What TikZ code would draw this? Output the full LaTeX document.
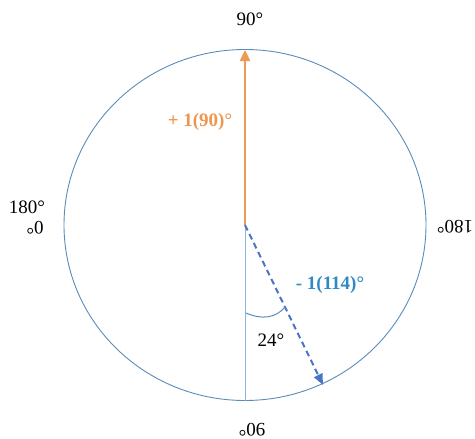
\documentclass[tikz,border=0pt]{standalone}
\usepackage{fontspec}
\setmainfont{Liberation Serif}
\usetikzlibrary{arrows.meta}
\definecolor{circblue}{HTML}{5A8CBA}
\definecolor{lineblue}{HTML}{8DB3D6}
\definecolor{arrorange}{HTML}{EF9A52}
\definecolor{txtorange}{HTML}{EE964E}
\definecolor{dashblue}{HTML}{4A74C6}
\definecolor{txtblue}{HTML}{2F8AC4}
\tikzset{
  lbl/.style={font=\fontsize{19}{21}\selectfont, inner sep=0pt, text=black, text height=0.68em, text depth=0pt},
  flip/.style={lbl, rotate=180},
  vlbl/.style={font=\bfseries\fontsize{19}{21}\selectfont, inner sep=0pt},
}
\begin{document}
\begin{tikzpicture}[x=1pt,y=-1pt]
\useasboundingbox (0,0) rectangle (475,439);
\coordinate (O) at (245,225);
\coordinate (T) at (245,50);
\coordinate (B) at (245,401);
\coordinate (P) at (323,385);
\coordinate (A1) at (246,313);
\coordinate (A2) at (285,307);
\draw[circblue, line width=0.9pt] (O) ellipse [x radius=181, y radius=175.5];
\draw[lineblue, line width=1pt] (O) -- (B);
\draw[arrorange, line width=2.4pt, -{Triangle[width=10pt,length=11pt]}] (O) -- (T);
\draw[dashblue, line width=2pt, dash pattern=on 6pt off 4pt, -{Triangle[width=9pt,length=11pt]}] (O) -- (P);
\draw[circblue, line width=1pt] (A1) .. controls (262,320) and (276,318) .. (A2);
\node[lbl] (l90) at (250,22) {90°};
\node[lbl] (l180) at (27,210) {180°};
\node[flip] (l0) at (35,225) {0°};
\node[flip] (l180r) at (455,224) {180°};
\node[flip] (l90b) at (252,427) {90°};
\node[lbl] (l24) at (271,343) {24°};
\node[vlbl, text=txtorange] (lp) at (200,122) {+ 1(90)°};
\node[vlbl, text=txtblue] (lm) at (330,285) {- 1(114)°};
\end{tikzpicture}
\end{document}
